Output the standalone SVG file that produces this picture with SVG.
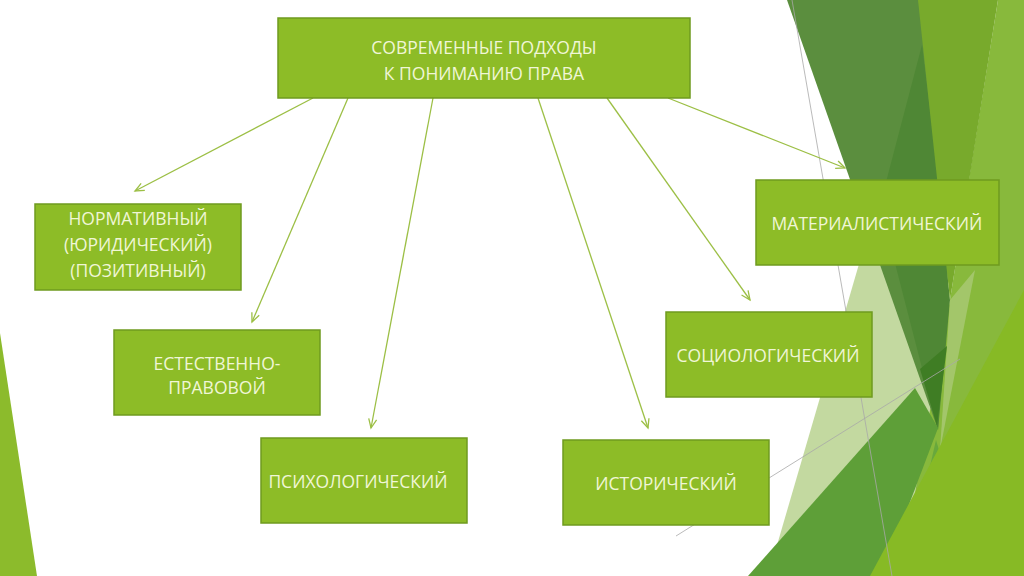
<svg xmlns="http://www.w3.org/2000/svg" width="1024" height="576" viewBox="0 0 1024 576">
  <defs>
    <style>
      .box { fill: #8dbc27; stroke: #6f9b1f; stroke-width: 1.5; }
      .lbl { font-family: "Open Sans", "Liberation Sans", sans-serif; font-size: 17.5px; fill: #f0f6d6; text-anchor: middle; }
      .conn { stroke: #9cbf45; stroke-width: 1.3; fill: none; marker-end: url(#arr); }
      .thin { stroke: #a8a8a8; stroke-width: 0.8; fill: none; }
    </style>
    <marker id="arr" markerWidth="12" markerHeight="12" refX="10" refY="5" orient="auto" markerUnits="userSpaceOnUse">
      <path d="M1,1 L10,5 L1,9" fill="none" stroke="#9cbf45" stroke-width="1.3"/>
    </marker>
  </defs>
  <rect width="1024" height="576" fill="#ffffff"/>

  <g id="background">
    <polygon points="0,333 37,576 0,576" fill="#8cbb2c"/>
    <polygon points="866,240 905,240 955,576 768,576" fill="#c3d9a0"/>
    <polygon points="998,0 1024,0 1024,576 900,576 950,300 972,160" fill="#88b93c"/>
    <polygon points="787,0 965,0 938,430" fill="#5b8e3e"/>
    <polygon points="922,45 880,205 938,430 950,300 936,160" fill="#4f8735"/>
    <polygon points="918,0 998,0 950,300" fill="#78aa2c"/>
    <polygon points="950,300 975,270 940,450" fill="#a3c66a"/>
    <polygon points="920,369 947,346 937,426" fill="#3f7d24"/>
    <polygon points="748,576 915,388 938,428 882,576" fill="#5e9f38"/>
    <polygon points="905,576 936,440 945,470 912,576" fill="#68a83c"/>
    <polygon points="870,576 1024,290 1024,576" fill="#87ba25"/>
    <line class="thin" x1="792" y1="0" x2="892" y2="576"/>
    <line class="thin" x1="676" y1="536" x2="960" y2="359"/>
  </g>

  <g id="connectors">
    <line class="conn" x1="313" y1="98" x2="135" y2="191"/>
    <line class="conn" x1="348" y1="98" x2="252" y2="322"/>
    <line class="conn" x1="433" y1="98" x2="371" y2="428"/>
    <line class="conn" x1="538" y1="98" x2="648" y2="428"/>
    <line class="conn" x1="607" y1="98" x2="750" y2="300"/>
    <line class="conn" x1="668" y1="98" x2="845" y2="168"/>
  </g>

  <g id="root">
    <rect class="box" x="278" y="18" width="412" height="80"/>
    <text class="lbl" x="484" y="54">СОВРЕМЕННЫЕ ПОДХОДЫ</text>
    <text class="lbl" x="484" y="80">К ПОНИМАНИЮ ПРАВА</text>
  </g>

  <g id="normative">
    <rect class="box" x="35" y="204" width="206" height="86"/>
    <text class="lbl" x="138" y="225">НОРМАТИВНЫЙ</text>
    <text class="lbl" x="138" y="251">(ЮРИДИЧЕСКИЙ)</text>
    <text class="lbl" x="138" y="277">(ПОЗИТИВНЫЙ)</text>
  </g>

  <g id="natural">
    <rect class="box" x="114" y="330" width="206" height="85"/>
    <text class="lbl" x="217" y="370">ЕСТЕСТВЕННО-</text>
    <text class="lbl" x="217" y="394">ПРАВОВОЙ</text>
  </g>

  <g id="psychological">
    <rect class="box" x="261" y="438" width="206" height="85"/>
    <text class="lbl" x="358" y="488">ПСИХОЛОГИЧЕСКИЙ</text>
  </g>

  <g id="historical">
    <rect class="box" x="563" y="440" width="206" height="85"/>
    <text class="lbl" x="666" y="490">ИСТОРИЧЕСКИЙ</text>
  </g>

  <g id="sociological">
    <rect class="box" x="666" y="312" width="206" height="85"/>
    <text class="lbl" x="768" y="362">СОЦИОЛОГИЧЕСКИЙ</text>
  </g>

  <g id="materialistic">
    <rect class="box" x="756" y="180" width="243" height="85"/>
    <text class="lbl" x="877" y="230">МАТЕРИАЛИСТИЧЕСКИЙ</text>
  </g>
</svg>
